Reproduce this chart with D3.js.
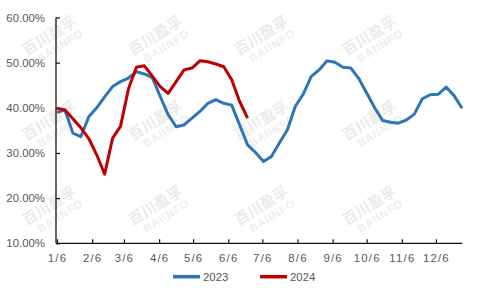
<!DOCTYPE html>
<html><head><meta charset="utf-8">
<script src="https://cdn.jsdelivr.net/npm/d3@7"></script>
<style>body{margin:0;background:#fff}svg{display:block}</style>
</head><body>
<svg id="c" width="480" height="288"></svg>
<script>
const series2023 = [39.0,39.5,34.4,33.6,38.0,40.0,42.4,44.7,45.8,46.6,48.0,47.5,46.7,42.5,38.5,35.8,36.2,37.7,39.2,41.0,41.8,41.0,40.6,36.2,31.8,30.1,28.1,29.2,32.2,35.1,40.3,43.0,46.9,48.4,50.4,50.1,49.0,48.8,46.5,43.3,40.0,37.2,36.8,36.6,37.3,38.6,42.0,42.9,43.0,44.6,42.7,39.9];
const series2024 = [39.9,39.5,37.6,35.6,33.2,29.6,25.3,33.3,35.9,44.2,49.0,49.3,47.0,44.7,43.2,45.8,48.4,48.8,50.4,50.2,49.7,49.1,46.2,41.4,37.7];
const yTicks = [10,20,30,40,50,60];
const xTickLabels = ["1/6","2/6","3/6","4/6","5/6","6/6","7/6","8/6","9/6","10/6","11/6","12/6"];
const seriesNames = ["2023","2024"];
const colors = ["#2E75B6","#C00000"];

const svg = d3.select("#c");
const start = new Date(2023,0,6), end = new Date(2023,11,29);
const x = d3.scaleTime().domain([start,end]).range([57,462]);
const y = d3.scaleLinear().domain([10,60]).range([243.3,17.5]);
const weekDate = i => d3.timeDay.offset(start, 7*i);

// watermarks
const wm = svg.append("g");
[52,158,264,372].forEach(cx=>{
  [40,125,210].forEach(cy=>{
    const g = wm.append("g").attr("transform",`translate(${cx},${cy}) rotate(-32)`);
    g.append("text").attr("text-anchor","middle").attr("y",0)
      .attr("font-family","Noto Sans CJK SC").attr("font-weight","bold").attr("font-size",15)
      .attr("fill","#ebebeb").text("百川盈孚");
    g.append("text").attr("text-anchor","middle").attr("y",13).attr("x",4)
      .attr("font-family","Liberation Sans").attr("font-weight","bold").attr("font-size",11)
      .attr("letter-spacing",1).attr("fill","#eeeeee").text("BAIINFO");
  });
});

// axes
const yAxis = d3.axisLeft(y).tickValues(yTicks).tickSize(-4).tickPadding(11)
  .tickFormat(d=>d.toFixed(2)+"%");
const gy = svg.append("g").attr("transform","translate(56,0)").call(yAxis);
const tickDates = xTickLabels.map(s=>{const m=+s.split("/")[0]-1;return new Date(2023,m,6);});
const xAxis = d3.axisBottom(x).tickValues(tickDates).tickSize(-4).tickPadding(11)
  .tickFormat((d,i)=>xTickLabels[i]);
const gx = svg.append("g").attr("transform","translate(0,243.3)").call(xAxis);
[gy,gx].forEach(g=>{
  g.select(".domain").attr("stroke","#111").attr("stroke-width",1.3);
  g.selectAll(".tick line").attr("stroke","#111").attr("stroke-width",1.2);
  g.selectAll("text").attr("font-family","Liberation Sans").attr("font-size",11.4).attr("fill","#595959");
});
gx.selectAll("text").attr("letter-spacing",1.2);
gy.select(".domain").attr("d","M0,17.5V243.3");
gx.select(".domain").attr("d","M56,0H462.3");

// lines
const line = d3.line().x((d,i)=>x(weekDate(i))).y(d=>y(d));
[series2023,series2024].forEach((s,k)=>{
  svg.append("path").datum(s).attr("d",line).attr("fill","none")
    .attr("stroke",colors[k]).attr("stroke-width",3).attr("stroke-linejoin","round");
});

// legend
const lx = [173,260];
seriesNames.forEach((n,k)=>{
  svg.append("line").attr("x1",lx[k]).attr("x2",lx[k]+27).attr("y1",276.7).attr("y2",276.7)
    .attr("stroke",colors[k]).attr("stroke-width",3.5);
  svg.append("text").attr("x",lx[k]+30).attr("y",280.8).attr("font-family","Liberation Sans")
    .attr("font-size",11.4).attr("fill","#595959").text(n);
});
</script>
</body></html>
